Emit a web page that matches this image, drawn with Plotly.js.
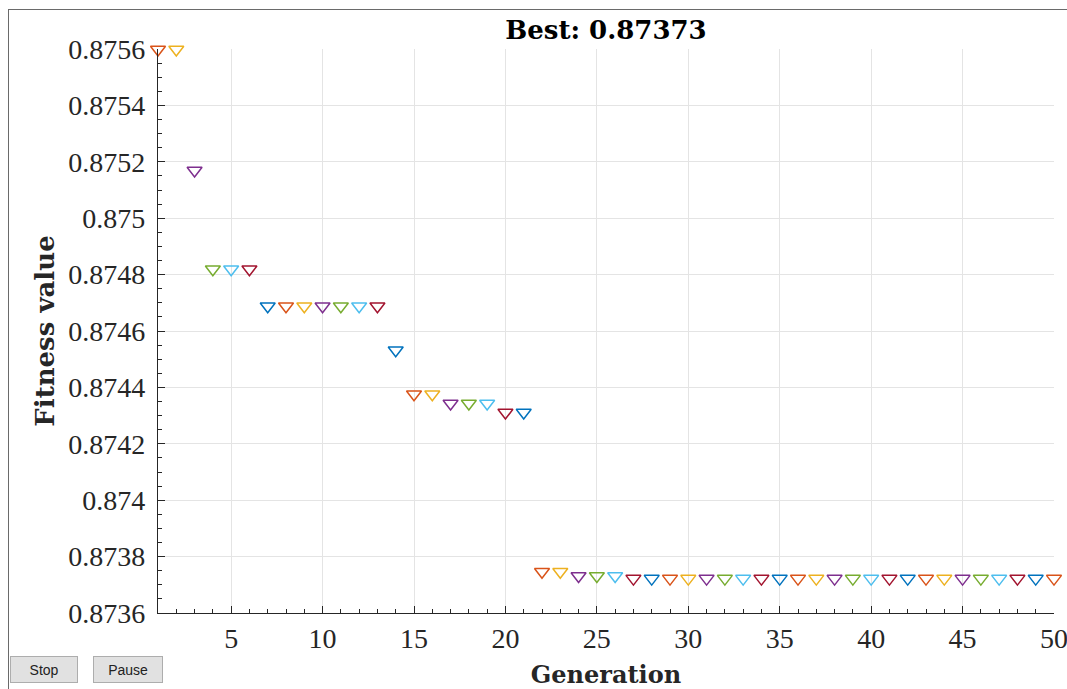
<!DOCTYPE html>
<html>
<head>
<meta charset="utf-8">
<script src="https://cdn.plot.ly/plotly-3.0.1.min.js"></script>
<style>
  html, body { margin: 0; padding: 0; background: #ffffff; }
  #wrap { position: relative; width: 1067px; height: 689px; overflow: hidden; }
  #chart { position: absolute; left: 0; top: 0; width: 1067px; height: 689px; }
  #frame { position: absolute; left: 8px; top: 9px; width: 1070px; height: 700px;
           border-left: 1px solid #6a6a6a; border-top: 1px solid #6a6a6a;
           pointer-events: none; box-sizing: border-box; }
  .btn { position: absolute; top: 656px; height: 27px; background: #e1e1e1;
         border: 1px solid #adadad; box-sizing: border-box; padding: 0;
         font-family: "Liberation Sans", Arial, sans-serif; font-size: 14px; color: #222; }
  #stop { left: 10px; width: 68px; }
  #pause { left: 93px; width: 70px; }
</style>
</head>
<body>
<div id="wrap">
  <div id="chart"></div>
  <div id="frame"></div>
  <button class="btn" id="stop">Stop</button>
  <button class="btn" id="pause">Pause</button>
</div>
<script>
// ---- data ----
const generations = [1,2,3,4,5,6,7,8,9,10,11,12,13,14,15,16,17,18,19,20,21,22,23,24,25,
                     26,27,28,29,30,31,32,33,34,35,36,37,38,39,40,41,42,43,44,45,46,47,48,49,50];
const fitness = [0.875598,0.875598,0.875169,0.874819,0.874819,0.874819,
                 0.874688,0.874688,0.874688,0.874688,0.874688,0.874688,0.874688,
                 0.874532,0.874376,0.874376,0.874343,0.874343,0.874343,0.874311,0.874311,
                 0.873746,0.873746,0.873731,0.873731,0.873731,
                 0.873722,0.873722,0.873722,0.873722,0.873722,0.873722,0.873722,0.873722,
                 0.873722,0.873722,0.873722,0.873722,0.873722,0.873722,0.873722,0.873722,
                 0.873722,0.873722,0.873722,0.873722,0.873722,0.873722,0.873722,0.873722];
const yTickValues = [0.8736,0.8738,0.874,0.8742,0.8744,0.8746,0.8748,0.875,0.8752,0.8754,0.8756];
const yTickLabels = ['0.8736','0.8738','0.874','0.8742','0.8744','0.8746','0.8748','0.875','0.8752','0.8754','0.8756'];
const xTickValues = [5,10,15,20,25,30,35,40,45,50];
const xTickLabels = ['5','10','15','20','25','30','35','40','45','50'];
const titleText = 'Best: 0.87373';
const xTitle = 'Generation';
const yTitle = 'Fitness value';

// MATLAB default colour order; each generation was plotted separately so colours cycle
const colorOrder = ['#0072BD','#D95319','#EDB120','#7E2F8E','#77AC30','#4DBEEE','#A2142F'];
const markerColors = generations.map(g => colorOrder[g % colorOrder.length]);

const axisColor = '#262626';
const gridColor = '#e4e4e4';
const tickFont = {family: 'Liberation Serif, serif', size: 28, color: axisColor};

const trace = {
  type: 'scatter',
  mode: 'markers',
  x: generations,
  y: fitness,
  cliponaxis: false,
  marker: {
    symbol: 'triangle-down-open',
    size: 13,
    color: markerColors,
    line: {width: 1.5, color: markerColors}
  },
  hoverinfo: 'x+y'
};

const layout = {
  width: 1067,
  height: 689,
  margin: {l: 158, r: 13, t: 49, b: 76},
  paper_bgcolor: '#ffffff',
  plot_bgcolor: '#ffffff',
  showlegend: false,
  title: {
    text: titleText,
    font: {family: 'DejaVu Serif, serif', size: 26, color: '#000000', weight: 'bold'},
    x: 0.5, xref: 'paper', xanchor: 'center',
    y: 1 - 30 / 689, yref: 'container', yanchor: 'middle'
  },
  xaxis: {
    range: [1, 50],
    tickmode: 'array',
    tickvals: xTickValues,
    ticktext: xTickLabels,
    ticks: 'inside', ticklen: 7, tickwidth: 1, tickcolor: axisColor,
    minor: {ticks: 'inside', tick0: 0, dtick: 1, ticklen: 4, tickwidth: 1, tickcolor: axisColor, showgrid: false},
    showline: true, linecolor: axisColor, linewidth: 1.2,
    showgrid: true, gridcolor: gridColor, gridwidth: 1,
    zeroline: false,
    tickfont: tickFont,
    ticklabelstandoff: 0,
    ticklabeloverflow: 'allow',
    title: {text: xTitle, font: {family: 'DejaVu Serif, serif', size: 24, color: axisColor, weight: 'bold'}, standoff: 16},
    automargin: false
  },
  yaxis: {
    range: [0.8736, 0.8756],
    tickmode: 'array',
    tickvals: yTickValues,
    ticktext: yTickLabels,
    ticks: 'inside', ticklen: 7, tickwidth: 1, tickcolor: axisColor,
    minor: {ticks: 'inside', tick0: 0.8736, dtick: 0.00005, ticklen: 4, tickwidth: 1, tickcolor: axisColor, showgrid: false},
    showline: true, linecolor: axisColor, linewidth: 1.2,
    showgrid: true, gridcolor: gridColor, gridwidth: 1,
    zeroline: false,
    tickfont: tickFont,
    ticklabelstandoff: 6,
    ticklabeloverflow: 'allow',
    title: {text: yTitle, font: {family: 'DejaVu Serif, serif', size: 26, color: axisColor, weight: 'bold'}, standoff: 6},
    automargin: false
  }
};

Plotly.newPlot('chart', [trace], layout, {displayModeBar: false});
</script>
</body>
</html>
